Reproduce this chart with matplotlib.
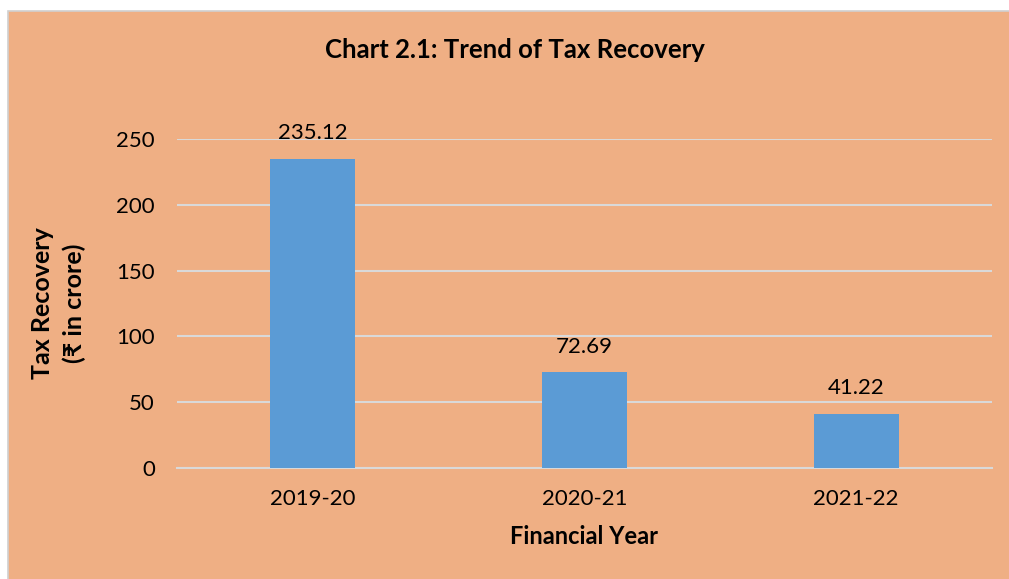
import matplotlib.pyplot as plt
from matplotlib.patches import Rectangle

# --- datos ---
years = ["2019-20", "2020-21", "2021-22"]
recovery = [235.12, 72.69, 41.22]
y_ticks = [0, 50, 100, 150, 200, 250]

BG = "#EFAF84"
BAR = "#5B9BD5"
GRID = "#D9D9D9"

plt.rcParams['font.family'] = ['Lato', 'DejaVu Sans']

fig = plt.figure(figsize=(10.09, 5.79), dpi=100)
fig.patch.set_facecolor("white")

# fondo naranja del area del grafico
fig.patches.append(Rectangle((8 / 1009, -0.01), 1.05, 1 - 11 / 579 + 0.01,
                             transform=fig.transFigure, facecolor=BG,
                             edgecolor="#D0D0D0", linewidth=1.2, zorder=-10))

ax = fig.add_axes([177 / 1009, 111 / 579, 815 / 1009, 329 / 579])
ax.set_facecolor("none")

x = range(len(years))
bars = ax.bar(x, recovery, width=0.313, color=BAR, zorder=3)

for b, v in zip(bars, recovery):
    ax.annotate(f"{v:.2f}", (b.get_x() + b.get_width() / 2, v),
                xytext=(0, 11), textcoords="offset points",
                ha="center", va="bottom", fontsize=16, color="black")

ax.set_xlim(-0.5, len(years) - 0.5)
ax.set_ylim(0, 250)
ax.set_yticks(y_ticks)
ax.set_xticks(list(x))
ax.set_xticklabels(years)
ax.yaxis.grid(True, color=GRID, linewidth=1.5, zorder=0)
ax.set_axisbelow(True)

for s in ["top", "right", "left"]:
    ax.spines[s].set_visible(False)
ax.spines["bottom"].set_color(GRID)
ax.spines["bottom"].set_linewidth(1.5)

ax.tick_params(axis="y", length=0, pad=16, labelsize=16)
ax.tick_params(axis="x", length=0, pad=15, labelsize=16)

ax.set_xlabel("Financial Year", fontsize=17, fontweight="bold", labelpad=12)
ax.set_ylabel("Tax Recovery\n(₹ in crore)", fontsize=18, fontweight="bold",
              labelpad=22, linespacing=1.4)

fig.text(515 / 1009, 1 - 50 / 579, "Chart 2.1: Trend of Tax Recovery",
         ha="center", va="center", fontsize=18.5, fontweight="bold")

fig.savefig("out.png", dpi=100, facecolor=fig.get_facecolor())
